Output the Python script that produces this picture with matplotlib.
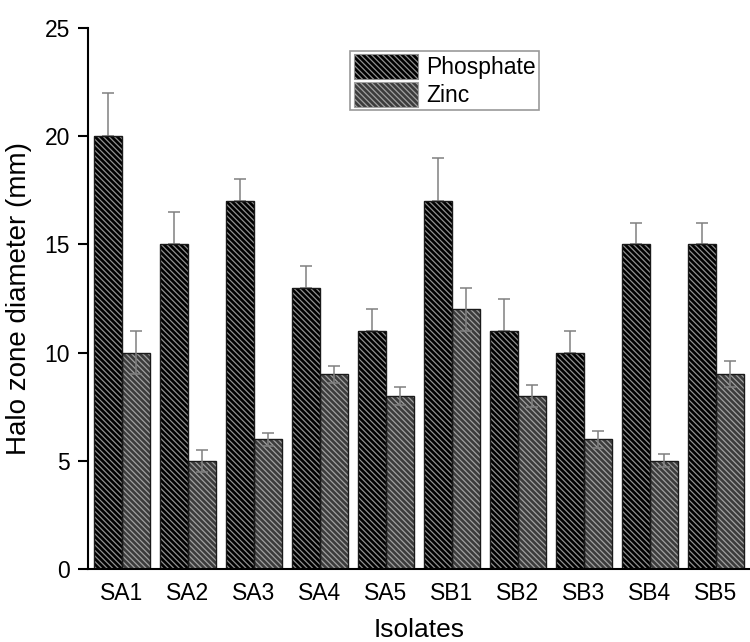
import matplotlib.pyplot as plt
import numpy as np

plt.rcParams['font.family'] = ['Liberation Sans', 'DejaVu Sans']
plt.rcParams['hatch.linewidth'] = 0.9

isolates = ['SA1', 'SA2', 'SA3', 'SA4', 'SA5', 'SB1', 'SB2', 'SB3', 'SB4', 'SB5']
phosphate = [20, 15, 17, 13, 11, 17, 11, 10, 15, 15]
phosphate_err = [2, 1.5, 1, 1, 1, 2, 1.5, 1, 1, 1]
zinc = [10, 5, 6, 9, 8, 12, 8, 6, 5, 9]
zinc_err = [1, 0.5, 0.3, 0.4, 0.4, 1, 0.5, 0.4, 0.3, 0.6]

fig = plt.figure(figsize=(7.5, 6.42), dpi=100)
ax = fig.add_axes([88 / 750, 1 - 569 / 642, 662 / 750, 541 / 642])

x = np.arange(len(isolates))
width = 0.43

# error bars (phosphate: upper only, hidden part behind bar)
ax.errorbar(x - width / 2, phosphate, yerr=[np.zeros(len(x)), phosphate_err],
            fmt='none', ecolor='#808080', elinewidth=1.1, capsize=4, capthick=1.1, zorder=1)
ax.errorbar(x + width / 2, zinc, yerr=zinc_err,
            fmt='none', ecolor='#808080', elinewidth=1.1, capsize=4, capthick=1.1, zorder=3)

# hatched fills
ax.bar(x - width / 2, phosphate, width, color='black', edgecolor='#909090',
       hatch='\\\\\\\\\\\\', linewidth=0, zorder=2)
ax.bar(x + width / 2, zinc, width, color='#3c3c3c', edgecolor='#a0a0a0',
       hatch='\\\\\\\\\\\\', linewidth=0, zorder=2)
# outlines
ax.bar(x - width / 2, phosphate, width, fill=False, edgecolor='#1a1a1a', linewidth=1, zorder=2.5)
ax.bar(x + width / 2, zinc, width, fill=False, edgecolor='#1a1a1a', linewidth=1, zorder=2.5)

# legend proxies
h1 = plt.Rectangle((0, 0), 1, 1, facecolor='black', edgecolor='#909090', hatch='\\\\\\\\\\\\', linewidth=0.8)
h2 = plt.Rectangle((0, 0), 1, 1, facecolor='#3c3c3c', edgecolor='#a0a0a0', hatch='\\\\\\\\\\\\', linewidth=0.8)
leg = ax.legend([h1, h2], ['Phosphate', 'Zinc'], loc='upper left', bbox_to_anchor=(0.396, 0.958),
                fontsize=16.5, fancybox=False, edgecolor='#999999', framealpha=1,
                handlelength=2.8, handleheight=1.3, handletextpad=0.35, labelspacing=0.1,
                borderpad=0.15, borderaxespad=0)
leg.get_frame().set_linewidth(1.2)

ax.set_xlim(-0.515, 9.515)
ax.set_ylim(0, 25)
ax.set_yticks([0, 5, 10, 15, 20, 25])
ax.set_xticks(x)
ax.set_xticklabels(isolates)
ax.tick_params(axis='x', length=0, labelsize=16.5, pad=9)
ax.tick_params(axis='y', direction='out', length=7.5, width=1.5, labelsize=16.5, pad=5.5)
ax.set_xlabel('Isolates', fontsize=19, labelpad=10)
ax.set_ylabel('Halo zone diameter (mm)', fontsize=20, labelpad=9)

for side in ['top', 'right']:
    ax.spines[side].set_visible(False)
for side in ['left', 'bottom']:
    ax.spines[side].set_linewidth(1.5)

plt.savefig('out.png', dpi=100)
